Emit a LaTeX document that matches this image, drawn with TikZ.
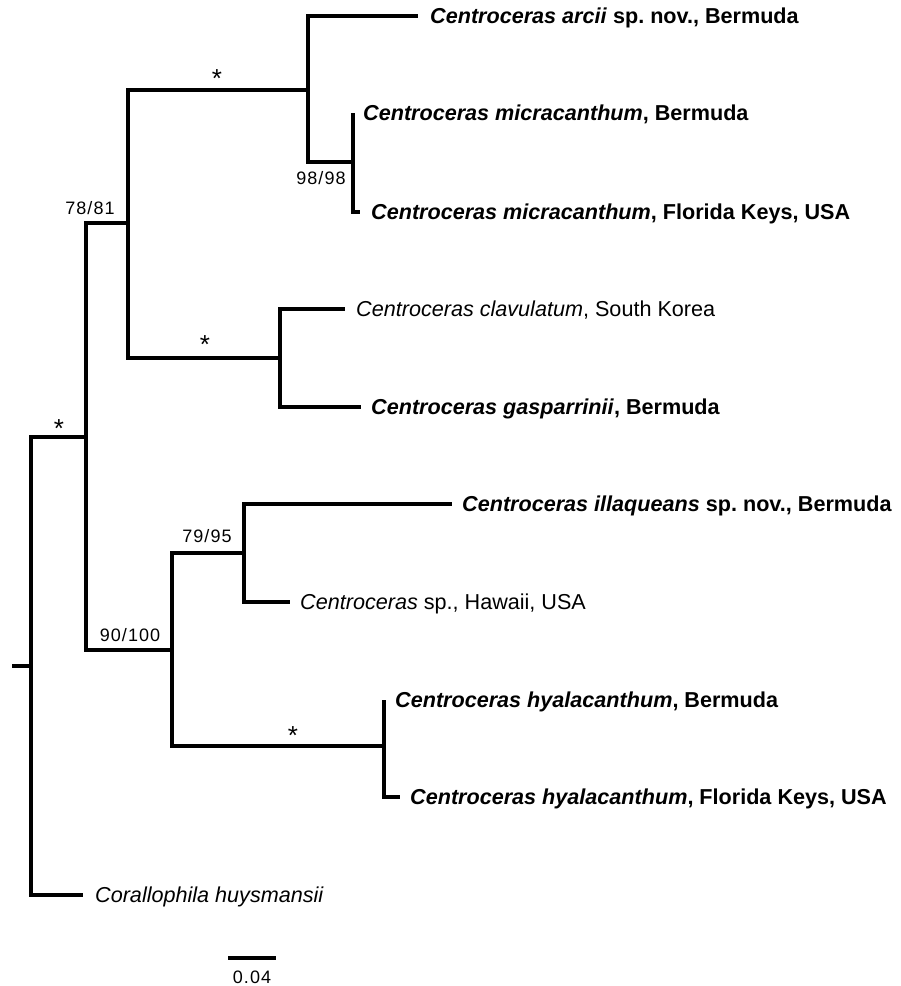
\documentclass[tikz,border=0pt]{standalone}
\usepackage{fontspec}
\setmainfont{Liberation Sans}
\frenchspacing
\begin{document}
\begin{tikzpicture}[x=1pt,y=-1pt,
  br/.style={line width=3.8pt},
  lab/.style={anchor=west,inner sep=0pt,text height=15pt,text depth=0pt,font=\fontsize{21.6}{24}\selectfont},
  supp/.style={inner sep=0pt,font=\fontsize{18}{20}\selectfont\addfontfeature{LetterSpace=6}},
  star/.style={inner sep=0pt,font=\fontsize{26}{28}\selectfont}]
\useasboundingbox (0,0) rectangle (901,986);
% internal nodes
\coordinate (rs) at (12,666);
\coordinate (r) at (31,666);
\coordinate (n1) at (86,437);
\coordinate (n2) at (128,223);
\coordinate (n3) at (308,90);
\coordinate (n4) at (280,358);
\coordinate (n5) at (172,650);
\coordinate (n6) at (353,162);
\coordinate (n7) at (244,553);
\coordinate (n8) at (384,746);
% tips
\coordinate (tArc) at (418,16);
\coordinate (tMicB) at (353,113);
\coordinate (tMicF) at (360,212);
\coordinate (tClav) at (345,309);
\coordinate (tGasp) at (361,407);
\coordinate (tIll) at (452,504);
\coordinate (tHaw) at (290,602);
\coordinate (tHyB) at (384,700);
\coordinate (tHyF) at (400,797);
\coordinate (tCor) at (83,895);
% branches
\draw[br] (rs) -- (r);
\draw[br] (r) |- (n1);
\draw[br] (r) |- (tCor);
\draw[br] (n1) |- (n2);
\draw[br] (n1) |- (n5);
\draw[br] (n2) |- (n3);
\draw[br] (n2) |- (n4);
\draw[br] (n3) |- (tArc);
\draw[br] (n3) |- (n6);
\draw[br] (n6) -- (tMicB);
\draw[br] (n6) |- (tMicF);
\draw[br] (n4) |- (tClav);
\draw[br] (n4) |- (tGasp);
\draw[br] (n5) |- (n7);
\draw[br] (n5) |- (n8);
\draw[br] (n7) |- (tIll);
\draw[br] (n7) |- (tHaw);
\draw[br] (n8) -- (tHyB);
\draw[br] (n8) |- (tHyF);
% labels
\node[lab] (lArc) at (430,16) {\textbf{\textit{Centroceras arcii}} \textbf{sp. nov., Bermuda}};
\node[lab] (lMicB) at (363,113) {\textbf{\textit{Centroceras micracanthum}}\textbf{, Bermuda}};
\node[lab] (lMicF) at (371,212) {\textbf{\textit{Centroceras micracanthum}}\textbf{, Florida Keys, USA}};
\node[lab] (lClav) at (356,309) {\textit{Centroceras clavulatum}, South Korea};
\node[lab] (lGasp) at (371,407) {\textbf{\textit{Centroceras gasparrinii}}\textbf{, Bermuda}};
\node[lab] (lIll) at (462,504) {\textbf{\textit{Centroceras illaqueans}} \textbf{sp. nov., Bermuda}};
\node[lab] (lHaw) at (300,602) {\textit{Centroceras} sp., Hawaii, USA};
\node[lab] (lHyB) at (395,700) {\textbf{\textit{Centroceras hyalacanthum}}\textbf{, Bermuda}};
\node[lab] (lHyF) at (410,797) {\textbf{\textit{Centroceras hyalacanthum}}\textbf{, Florida Keys, USA}};
\node[lab] (lCor) at (95,895) {\textit{Corallophila huysmansii}};
% support values
\node[supp] (s1) at (90,208) {78/81};
\node[supp] (s2) at (321,178) {98/98};
\node[supp] (s3) at (130,635) {90/100};
\node[supp] (s4) at (207,536) {79/95};
\node[star] (a1) at (217,78.5) {*};
\node[star] (a2) at (205,344.5) {*};
\node[star] (a3) at (59,428.5) {*};
\node[star] (a4) at (293,735.5) {*};
% scale bar
\coordinate (sb1) at (228,958);
\coordinate (sb2) at (276,958);
\draw[br] (sb1) -- (sb2);
\node[supp] (sbl) at (252,977) {0.04};
\end{tikzpicture}
\end{document}
